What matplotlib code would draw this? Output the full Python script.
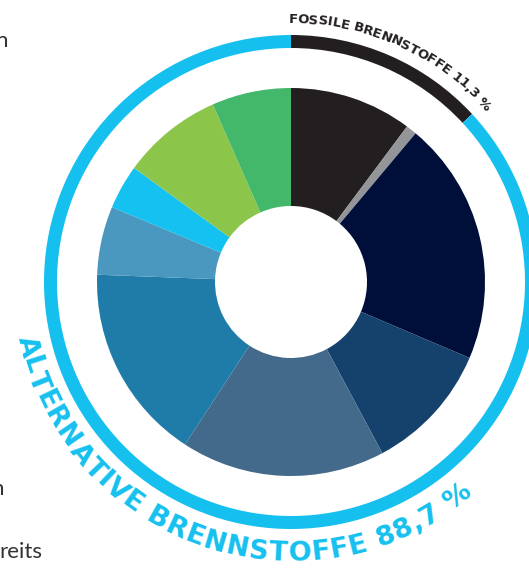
import numpy as np
import matplotlib.pyplot as plt
from matplotlib.font_manager import FontProperties

# Anteile der Brennstoffe (im Uhrzeigersinn ab 12 Uhr)
slice_values = [10.2, 0.9, 20.3, 10.8, 17.0, 16.4, 5.7, 3.7, 8.4, 6.6]
slice_colors = ['#231f20', '#939598', '#000f3a', '#15426d', '#436a8b',
                '#1f7ca8', '#4a97bf', '#14c1f0', '#8bc64a', '#44b86a']

# äusserer Ring: fossil / alternativ (Bogen wie gezeichnet)
ring_values = [13.1, 86.9]
ring_colors = ['#231f20', '#15c0ef']

label_fossil = 'FOSSILE BRENNSTOFFE 11,3 %'
label_alt = 'ALTERNATIVE BRENNSTOFFE 88,7 %'

W, H = 529, 568
CX, CY = 291, H - 282


def char_advances(renderer, s, fp):
    ref, _, _ = renderer.get_text_width_height_descent('HH', fp, ismath=False)
    adv = []
    for c in s:
        w, _, _ = renderer.get_text_width_height_descent('H' + c + 'H', fp, ismath=False)
        adv.append(w - ref)
    return np.array(adv)


def curved_text(ax, renderer, s, r, a0, a1, size, color, tops_out):
    fp = FontProperties(family='DejaVu Sans', weight='bold', size=size)
    adv = char_advances(renderer, s, fp)
    centers = np.cumsum(adv) - adv / 2
    t = (centers - centers[0]) / (centers[-1] - centers[0])
    angles = a0 + t * (a1 - a0)
    for ch, a in zip(s, angles):
        if ch == ' ':
            continue
        rad = np.radians(a)
        rot = a - 90 if tops_out else a + 90
        ax.text(CX + r * np.cos(rad), CY + r * np.sin(rad), ch,
                rotation=rot, rotation_mode='anchor', ha='center', va='baseline',
                fontproperties=fp, color=color)


fig = plt.figure(figsize=(W / 100, H / 100), dpi=100)
ax = fig.add_axes([0, 0, 1, 1])

ax.pie(slice_values, colors=slice_colors, radius=194, center=(CX, CY),
       startangle=90, counterclock=False,
       wedgeprops=dict(width=194 - 76, linewidth=0))
ax.pie(ring_values, colors=ring_colors, radius=247, center=(CX, CY),
       startangle=90, counterclock=False,
       wedgeprops=dict(width=13, linewidth=0))

ax.set_xlim(0, W)
ax.set_ylim(0, H)
ax.set_aspect('equal')
ax.set_axis_off()

renderer = fig.canvas.get_renderer()
curved_text(ax, renderer, label_fossil, 259, 89.5, 42.7, 9.5, '#231f20', True)
curved_text(ax, renderer, label_alt, 279, 193.7, 307.7, 19.5, '#15c0ef', False)

# angeschnittener Fliesstext am linken Rand
body = dict(fontsize=16, color='#333333', va='baseline',
            family=['Lato', 'DejaVu Sans'])
ax.text(8, H - 47, 'n', ha='right', **body)
ax.text(4, H - 495, 'n', ha='right', **body)
ax.text(-1, H - 558, 'reits', ha='left', **body)

fig.savefig('out.png', dpi=100)
